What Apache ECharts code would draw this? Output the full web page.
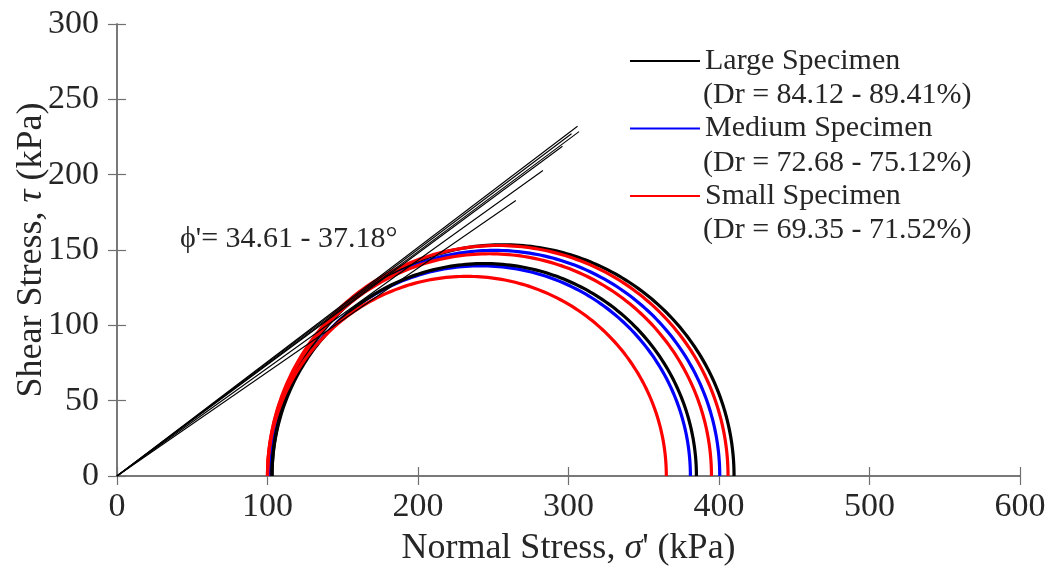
<!DOCTYPE html>
<html>
<head>
<meta charset="utf-8">
<script src="https://cdn.jsdelivr.net/npm/echarts@6/dist/echarts.min.js"></script>
<style>
html,body{margin:0;padding:0;background:#fff;}
#chart{width:1049px;height:572px;}
</style>
</head>
<body>
<div id="chart"></div>
<script>
// ---- data (kPa) ----
// Mohr circles as [sigma3', sigma1']
const largeCircles  = [[103, 385], [103, 410]];
const mediumCircles = [[102, 381], [101, 400.5]];
const smallCircles  = [[100, 365], [100, 395], [100, 406]];
// failure envelopes: friction angle (deg) and end of drawn line (sigma')
const envelopeAngles = [37.18, 36.95, 36.67, 36.48, 35.62, 34.61];
const envelopeEndX   = [306, 302, 307, 296, 283, 265];
const seriesNames = ['Large Specimen', 'Medium Specimen', 'Small Specimen'];
const drRanges = ['(Dr = 84.12 - 89.41%)', '(Dr = 72.68 - 75.12%)', '(Dr = 69.35 - 71.52%)'];
const phiLabel = "\u03d5'= 34.61 - 37.18\u00b0";
const xTickValues = [0, 100, 200, 300, 400, 500, 600];
const yTickValues = [0, 50, 100, 150, 200, 250, 300];

const FONT = '"Liberation Serif", "Times New Roman", serif';
const TXT = '#262626';
const AX = '#707070';

function circleSeries(name, data, color) {
  return {
    type: 'custom', name: name, data: data, color: color,
    itemStyle: { color: color },
    encode: { x: 0, y: 1 },
    clip: true,
    renderItem: function (params, api) {
      const s3 = api.value(0), s1 = api.value(1);
      const c = (s3 + s1) / 2, r = (s1 - s3) / 2;
      const pts = [];
      for (let i = 0; i <= 180; i++) {
        const t = Math.PI * i / 180;
        pts.push(api.coord([c + r * Math.cos(t), r * Math.sin(t)]));
      }
      return { type: 'polyline', shape: { points: pts },
        style: { stroke: color, lineWidth: 3.2, fill: null } };
    }
  };
}

const series = [];
envelopeAngles.forEach(function (a, i) {
  const x = envelopeEndX[i];
  series.push({
    type: 'line', name: 'env' + i, symbol: 'none', silent: true,
    data: [[0, 0], [x, x * Math.tan(a * Math.PI / 180)]],
    lineStyle: { color: '#000', width: 1.1 }, z: 3
  });
});
series.push(circleSeries(seriesNames[1], mediumCircles, '#0000ff'));
series.push(circleSeries(seriesNames[0], largeCircles, '#000000'));
series.push(circleSeries(seriesNames[2], smallCircles, '#ff0000'));

const xMin = xTickValues[0], xMax = xTickValues[xTickValues.length - 1];
const yMin = yTickValues[0], yMax = yTickValues[yTickValues.length - 1];
const xInt = xTickValues[1] - xTickValues[0], yInt = yTickValues[1] - yTickValues[0];

const axisCommon = {
  axisLine: { show: true, lineStyle: { color: AX, width: 1.5 } },
  axisTick: { show: true, inside: true, length: 9, lineStyle: { color: AX, width: 1.2 } },
  splitLine: { show: false }
};

const option = {
  animation: false,
  backgroundColor: '#fff',
  grid: { left: 117, right: 29, top: 24, bottom: 96, containLabel: false, outerBoundsMode: 'none' },
  xAxis: [
    Object.assign({
      type: 'value', min: xMin, max: xMax, interval: xInt, position: 'bottom',
      name: "Normal Stress, {i|\u03c3}' (kPa)", nameLocation: 'middle', nameGap: 55,
      nameMoveOverlap: false,
      nameTextStyle: { fontFamily: FONT, fontSize: 36, color: TXT,
        rich: { i: { fontFamily: FONT, fontSize: 36, fontStyle: 'italic', color: TXT } } },
      axisLabel: { fontFamily: FONT, fontSize: 34, color: TXT, margin: 14 }
    }, axisCommon),
    Object.assign({
      type: 'value', min: xMin, max: xMax, interval: xInt, position: 'top',
      axisLabel: { show: false }
    }, axisCommon)
  ],
  yAxis: [
    Object.assign({
      type: 'value', min: yMin, max: yMax, interval: yInt, position: 'left',
      name: 'Shear Stress, {i|\u03c4} (kPa)', nameLocation: 'middle', nameGap: 67,
      nameMoveOverlap: false,
      nameTextStyle: { fontFamily: FONT, fontSize: 36, color: TXT,
        rich: { i: { fontFamily: FONT, fontSize: 36, fontStyle: 'italic', color: TXT } } },
      axisLabel: { fontFamily: FONT, fontSize: 34, color: TXT, margin: 18 }
    }, axisCommon),
    Object.assign({
      type: 'value', min: yMin, max: yMax, interval: yInt, position: 'right',
      axisLabel: { show: false }
    }, axisCommon)
  ],
  legend: {
    orient: 'vertical', left: 630, top: 44, itemGap: 33.5, padding: 0,
    itemWidth: 70, itemHeight: 2,
    selectedMode: false,
    data: seriesNames.map(function (n) { return { name: n, icon: 'rect' }; }),
    textStyle: { fontFamily: FONT, fontSize: 30, color: TXT, lineHeight: 34 }
  },
  graphic: [
    { type: 'text', left: 180, top: 224, silent: true,
      style: { text: phiLabel, font: '30px ' + FONT, fill: TXT } }
  ].concat(drRanges.map(function (t, i) {
    return { type: 'text', left: 703, top: [80, 148, 215][i], silent: true,
      style: { text: t, font: '30px ' + FONT, fill: TXT } };
  })),
  series: series
};

const chart = echarts.init(document.getElementById('chart'), null, { renderer: 'canvas' });
chart.setOption(option);
</script>
</body>
</html>
